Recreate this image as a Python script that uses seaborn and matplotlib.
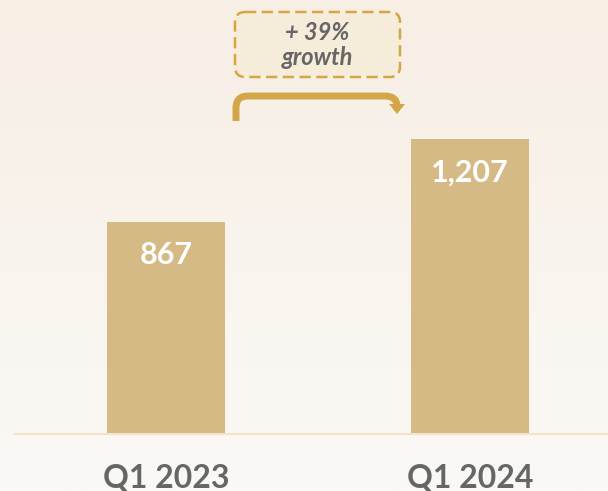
import numpy as np
import pandas as pd
import matplotlib
matplotlib.use('Agg')
import matplotlib.pyplot as plt
import matplotlib.colors as mcolors
from matplotlib.path import Path
from matplotlib.patches import PathPatch, Polygon, FancyBboxPatch
from matplotlib.transforms import Affine2D
import seaborn as sns

# data
quarters = ['Q1 2023', 'Q1 2024']
revenue = [867, 1207]
growth_label = '+ 39%\ngrowth'

BAR = '#d6ba86'
GOLD = '#d3a748'
GREY = '#666666'

sns.set_theme(style='white')
plt.rcParams['font.family'] = ['Lato', 'DejaVu Sans']

df = pd.DataFrame({'quarter': quarters, 'value': revenue})

fig = plt.figure(figsize=(6.08, 4.91), dpi=100)

# soft vertical background gradient
bg = fig.add_axes([0, 0, 1, 1], zorder=-10)
cmap = mcolors.LinearSegmentedColormap.from_list('bg', ['#f7eee4', '#fbf9f6'])
bg.imshow(np.linspace(0, 1, 256).reshape(-1, 1), cmap=cmap, aspect='auto',
          extent=[0, 1, 0, 1])
bg.axis('off')

ax = fig.add_axes([14 / 608, 1 - 434 / 491, 594 / 608, 434 / 491])
ax.set_facecolor('none')

sns.barplot(data=df, x='quarter', y='value', color=BAR, saturation=1,
            width=0.385, linewidth=0, edgecolor='none', ax=ax)

ax.set_xlim(-0.5, 1.454)
ax.set_ylim(0, 1775)
ax.set_xlabel('')
ax.set_ylabel('')
ax.set_yticks([])
for s in ['top', 'right', 'left']:
    ax.spines[s].set_visible(False)
ax.spines['bottom'].set_color('#f2e3ca')
ax.spines['bottom'].set_linewidth(1.5)

ax.set_xticks(range(len(quarters)))
ax.set_xticklabels(quarters, fontsize=23, fontweight='bold', color=GREY)
ax.tick_params(axis='x', which='major', length=0, pad=21)
ax.set_xticks([i - 0.5 for i in range(len(quarters))], minor=True)
ax.tick_params(axis='x', which='minor', length=9, width=1.5, color='#f2e3ca')

# value labels inside bars
for i, v in enumerate(revenue):
    ax.annotate(f'{v:,}', (i, v), xytext=(0, -24), textcoords='offset points',
                ha='center', va='center', color='white', fontsize=22,
                fontweight='bold')

# growth callout, in pixel coords from the top-left corner
px = Affine2D().scale(1 / 608, -1 / 491).translate(0, 1) + fig.transFigure

box = FancyBboxPatch((235, 12), 165, 65, boxstyle='round,pad=0,rounding_size=10',
                     transform=px, facecolor='#f6ecda', edgecolor=GOLD,
                     linewidth=1.8, linestyle=(0, (4.5, 2.2)), zorder=5)
fig.patches.append(box)
fig.text(317.5 / 608, 1 - 45 / 491, growth_label, ha='center', va='center',
         fontsize=17, fontweight='bold', style='italic', color=GREY,
         linespacing=1.1, zorder=6)

verts = [(236, 121), (236, 108), (236, 96), (248, 96), (385, 96),
         (397, 96), (397, 106)]
codes = [Path.MOVETO, Path.LINETO, Path.CURVE3, Path.CURVE3, Path.LINETO,
         Path.CURVE3, Path.CURVE3]
fig.patches.append(PathPatch(Path(verts, codes), transform=px, facecolor='none',
                             edgecolor=GOLD, linewidth=5, capstyle='butt',
                             zorder=5))
fig.patches.append(Polygon([(389, 104), (405, 104), (397, 114)], closed=True,
                           transform=px, facecolor=GOLD, edgecolor='none',
                           zorder=5))

fig.savefig('out.png', dpi=100)
